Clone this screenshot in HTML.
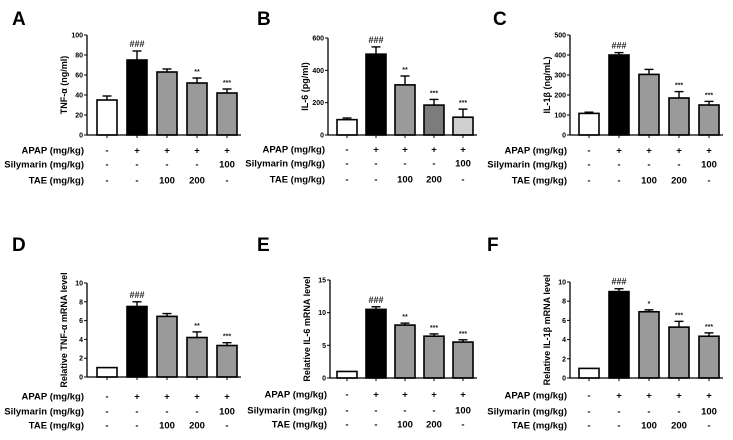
<!DOCTYPE html>
<html><head><meta charset="utf-8"><style>
body{margin:0;background:#fff}
svg{display:block;font-family:"Liberation Sans",Arial,sans-serif}
</style></head><body>
<svg id="fig" width="733" height="440" viewBox="0 0 733 440" xmlns="http://www.w3.org/2000/svg"></svg>
<script>
const groupLabels = ["APAP (mg/kg)","Silymarin (mg/kg)","TAE (mg/kg)"];
const apapRow = ["-","+","+","+","+"];
const silyRow = ["-","-","-","-","100"];
const taeRow = ["-","-","100","200","-"];

const aValues = [35,75,63,52,42];
const aErrors = [4,9,3,5,4];
const aMarks = ["","###","","**","***"];
const aTicks = [0,20,40,60,80,100];

const bValues = [95,500,310,185,110];
const bErrors = [10,45,55,35,50];
const bMarks = ["","###","**","***","***"];
const bTicks = [0,200,400,600];

const cValues = [108,400,303,185,150];
const cErrors = [6,12,25,32,18];
const cMarks = ["","###","","***","***"];
const cTicks = [0,100,200,300,400,500];

const dValues = [1,7.5,6.45,4.2,3.35];
const dErrors = [0,0.5,0.3,0.6,0.3];
const dMarks = ["","###","","**","***"];
const dTicks = [0,2,4,6,8,10];

const eValues = [1,10.5,8.1,6.4,5.5];
const eErrors = [0,0.4,0.3,0.35,0.35];
const eMarks = ["","###","**","***","***"];
const eTicks = [0,5,10,15];

const fValues = [1,9,6.9,5.3,4.35];
const fErrors = [0,0.3,0.2,0.6,0.35];
const fMarks = ["","###","*","***","***"];
const fTicks = [0,2,4,6,8,10];

const NS="http://www.w3.org/2000/svg";
const svg=document.getElementById('fig');
function mk(tag,attrs,parent){const e=document.createElementNS(NS,tag);for(const k in attrs)e.setAttribute(k,attrs[k]);(parent||svg).appendChild(e);return e;}

const panels=[
 {id:"a",letter:"A",lx:12,ly:25,ax:87,yTop:35,y0:135,x0:107,dx:30,vals:aValues,errs:aErrors,marks:aMarks,ticks:aTicks,title:"TNF-α (ng/ml)",rows:[150,164,180],colors:["#fff","#000","#9a9a9a","#9a9a9a","#9a9a9a"]},
 {id:"b",letter:"B",lx:257,ly:25,ax:328,yTop:38,y0:135,x0:347,dx:29,vals:bValues,errs:bErrors,marks:bMarks,ticks:bTicks,title:"IL-6 (pg/ml)",rows:[149,163,179],colors:["#fff","#000","#9a9a9a","#7c7c7c","#cfcfcf"]},
 {id:"c",letter:"C",lx:493,ly:25,ax:570,yTop:35,y0:135,x0:589,dx:30,vals:cValues,errs:cErrors,marks:cMarks,ticks:cTicks,title:"IL-1β (ng/mL)",rows:[150,164,180],colors:["#fff","#000","#9a9a9a","#9a9a9a","#9a9a9a"]},
 {id:"d",letter:"D",lx:12,ly:251,ax:87,yTop:283,y0:377,x0:107,dx:30,vals:dValues,errs:dErrors,marks:dMarks,ticks:dTicks,title:"Relative TNF-α  mRNA level",rows:[396,411,425],colors:["#fff","#000","#9a9a9a","#9a9a9a","#9a9a9a"]},
 {id:"e",letter:"E",lx:257,ly:251,ax:330,yTop:280,y0:378,x0:347,dx:29,vals:eValues,errs:eErrors,marks:eMarks,ticks:eTicks,title:"Relative IL-6 mRNA level",rows:[394,410,424],colors:["#fff","#000","#9a9a9a","#9a9a9a","#9a9a9a"]},
 {id:"f",letter:"F",lx:487,ly:251,ax:570,yTop:282,y0:378,x0:589,dx:30,vals:fValues,errs:fErrors,marks:fMarks,ticks:fTicks,title:"Relative IL-1β  mRNA level",rows:[395,411,425],colors:["#fff","#000","#9a9a9a","#9a9a9a","#9a9a9a"]}
];

panels.forEach(p=>{
 const g=mk('g',{});
 
 
 const maxT=p.ticks[p.ticks.length-1];
 const ys=v=>p.y0-(v/maxT)*(p.y0-p.yTop);
 const xs=i=>p.x0+i*p.dx;
 const L=mk('text',{x:p.lx,y:p.ly,'font-size':19,'font-weight':'bold'},g);L.textContent=p.letter;
 
 
 p.vals.forEach((v,i)=>{
  const x=xs(i), w=20, top=ys(v);
  const r=mk('rect',{x:x-w/2,y:top,width:w,height:p.y0-top,fill:p.colors[i],stroke:'#000','stroke-width':1.6},g);
  
  
  if(p.errs[i]>0){
   const et=ys(v+p.errs[i]);
   mk('line',{x1:x,x2:x,y1:top,y2:et,stroke:'#000','stroke-width':1.4},g);
   mk('line',{x1:x-4.5,x2:x+4.5,y1:et,y2:et,stroke:'#000','stroke-width':1.4},g);
  }
  if(p.marks[i]){
   const m=mk('text',{x:x,y:ys(v+p.errs[i])-4,'text-anchor':'middle','font-size':p.marks[i]==='###'?9:7,'font-weight':'bold',fill:'#222'},g);
   m.textContent=p.marks[i];
   
   
  }
  mk('line',{x1:x,x2:x,y1:p.y0,y2:p.y0+3,stroke:'#000','stroke-width':1},g);
 });
 mk('line',{x1:p.ax,x2:p.ax,y1:p.yTop,y2:p.y0,stroke:'#000','stroke-width':1.3},g);
 mk('line',{x1:p.ax,x2:xs(4)+14,y1:p.y0,y2:p.y0,stroke:'#000','stroke-width':1.3},g);
 p.ticks.forEach(t=>{
  const y=ys(t);
  mk('line',{x1:p.ax-3,x2:p.ax,y1:y,y2:y,stroke:'#000','stroke-width':1},g);
  const tl=mk('text',{x:p.ax-4,y:y+2.5,'text-anchor':'end','font-size':7,'font-weight':'bold'},g);
  tl.textContent=t;
  
  
 });
 const cy=(p.yTop+p.y0)/2;
 const yt=mk('text',{x:0,y:0,transform:`translate(${p.ax-20},${cy}) rotate(-90)`,'text-anchor':'middle','font-size':9,'font-weight':'bold'},g);
 yt.textContent=p.title;
 
 
 [apapRow,silyRow,taeRow].forEach((row,ri)=>{
  const y=p.rows[ri]+3.5;
  const lab=mk('text',{x:p.ax-3,y:y,'text-anchor':'end','font-size':9.5,'font-weight':'bold'},g);
  lab.textContent=groupLabels[ri];
  
  
  row.forEach((c,i)=>{
   const t=mk('text',{x:xs(i),y:y,'text-anchor':'middle','font-size':9.5,'font-weight':'bold'},g);
   t.textContent=c;
   
   
  });
 });
});
</script>
</body></html>
